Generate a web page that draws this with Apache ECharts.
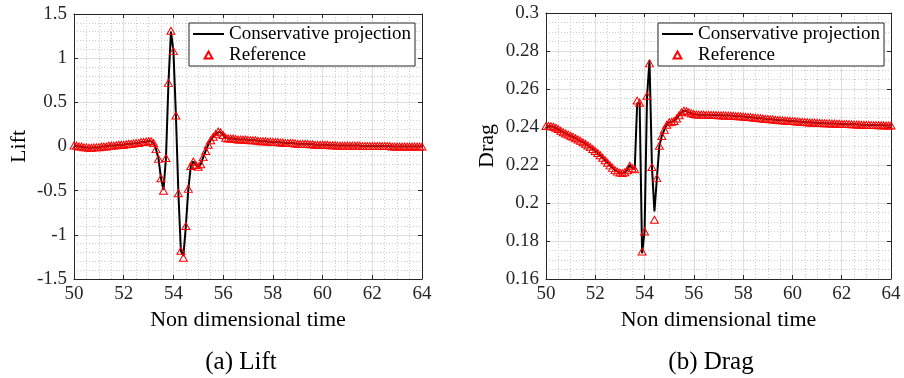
<!DOCTYPE html>
<html><head><meta charset="utf-8">
<script src="https://cdn.jsdelivr.net/npm/echarts@6/dist/echarts.min.js"></script>
<style>html,body{margin:0;padding:0;background:#fff}#c{width:904px;height:378px}</style>
</head><body><div id="c"></div>
<script>
const time = [
50.0,50.1,50.2,50.3,50.4,50.5,50.6,50.7,50.8,50.9,
51.0,51.1,51.2,51.3,51.4,51.5,51.6,51.7,51.8,51.9,
52.0,52.1,52.2,52.3,52.4,52.5,52.6,52.7,52.8,52.9,
53.0,53.1,53.2,53.3,53.4,53.5,53.6,53.7,53.8,53.9,
54.0,54.1,54.2,54.3,54.4,54.5,54.6,54.7,54.8,54.9,
55.0,55.1,55.2,55.3,55.4,55.5,55.6,55.7,55.8,55.9,
56.0,56.1,56.2,56.3,56.4,56.5,56.6,56.7,56.8,56.9,
57.0,57.1,57.2,57.3,57.4,57.5,57.6,57.7,57.8,57.9,
58.0,58.1,58.2,58.3,58.4,58.5,58.6,58.7,58.8,58.9,
59.0,59.1,59.2,59.3,59.4,59.5,59.6,59.7,59.8,59.9,
60.0,60.1,60.2,60.3,60.4,60.5,60.6,60.7,60.8,60.9,
61.0,61.1,61.2,61.3,61.4,61.5,61.6,61.7,61.8,61.9,
62.0,62.1,62.2,62.3,62.4,62.5,62.6,62.7,62.8,62.9,
63.0,63.1,63.2,63.3,63.4,63.5,63.6,63.7,63.8,63.9,
64.0];

const liftReference = [
0.01,0.01,0.00,0.00,-0.01,-0.01,-0.015,-0.015,-0.01,-0.01,
-0.01,0.00,0.00,0.00,0.01,0.01,0.01,0.015,0.02,0.02,
0.02,0.025,0.03,0.03,0.035,0.04,0.04,0.05,0.05,0.055,
0.06,0.06,0.04,-0.03,-0.14,-0.36,-0.50,-0.13,0.72,1.31,
1.08,0.35,-0.53,-1.18,-1.26,-0.90,-0.48,-0.22,-0.17,-0.21,
-0.23,-0.20,-0.12,-0.05,0.02,0.07,0.11,0.14,0.17,0.16,
0.13,0.10,0.09,0.09,0.09,0.085,0.08,0.08,0.08,0.08,
0.075,0.07,0.07,0.07,0.065,0.06,0.06,0.06,0.055,0.055,
0.05,0.05,0.05,0.045,0.045,0.04,0.04,0.04,0.04,0.035,
0.03,0.03,0.03,0.03,0.03,0.025,0.025,0.02,0.02,0.02,
0.02,0.02,0.02,0.015,0.015,0.015,0.01,0.01,0.01,0.01,
0.01,0.01,0.01,0.01,0.01,0.01,0.005,0.005,0.005,0.005,
0.005,0.005,0.005,0.005,0.005,0.005,0.005,0.005,0.00,0.00,
0.00,0.00,0.00,0.00,0.00,0.00,0.00,0.00,0.00,0.00,
0.00];

const liftProjection = [
0.01,0.01,0.00,0.00,-0.01,-0.01,-0.015,-0.015,-0.01,-0.01,
-0.01,0.00,0.00,0.00,0.01,0.01,0.01,0.015,0.02,0.02,
0.02,0.025,0.03,0.03,0.035,0.04,0.04,0.05,0.05,0.055,
0.06,0.06,0.04,-0.03,-0.14,-0.36,-0.49,-0.13,0.72,1.30,
1.08,0.35,-0.53,-1.18,-1.24,-0.90,-0.48,-0.22,-0.17,-0.21,
-0.23,-0.20,-0.12,-0.05,0.02,0.07,0.11,0.14,0.16,0.16,
0.13,0.10,0.09,0.09,0.09,0.085,0.08,0.08,0.08,0.08,
0.075,0.07,0.07,0.07,0.065,0.06,0.06,0.06,0.055,0.055,
0.05,0.05,0.05,0.045,0.045,0.04,0.04,0.04,0.04,0.035,
0.03,0.03,0.03,0.03,0.03,0.025,0.025,0.02,0.02,0.02,
0.02,0.02,0.02,0.015,0.015,0.015,0.01,0.01,0.01,0.01,
0.01,0.01,0.01,0.01,0.01,0.01,0.005,0.005,0.005,0.005,
0.005,0.005,0.005,0.005,0.005,0.005,0.005,0.005,0.00,0.00,
0.00,0.00,0.00,0.00,0.00,0.00,0.00,0.00,0.00,0.00,
0.00];

const dragReference = [
0.2405,0.2405,0.2404,0.2401,0.2396,0.2389,0.2380,0.2372,0.2366,0.2360,
0.2354,0.2348,0.2341,0.2334,0.2327,0.2320,0.2312,0.2303,0.2294,0.2284,
0.2274,0.2263,0.2251,0.2238,0.2225,0.2212,0.2198,0.2185,0.2173,0.2165,
0.2160,0.2158,0.2162,0.2172,0.2196,0.2183,0.2178,0.2539,0.2528,0.1745,
0.1850,0.2564,0.2735,0.2189,0.1912,0.2131,0.2301,0.2353,0.2385,0.2412,
0.2425,0.2428,0.2432,0.2445,0.2462,0.2478,0.2486,0.2483,0.2477,0.2472,
0.2468,0.2466,0.2465,0.2465,0.2465,0.2464,0.2464,0.2464,0.2463,0.2463,
0.2462,0.2462,0.2461,0.2461,0.2460,0.2460,0.2459,0.2458,0.2457,0.2456,
0.2455,0.2454,0.2453,0.2452,0.2450,0.2449,0.2448,0.2446,0.2445,0.2443,
0.2442,0.2441,0.2440,0.2438,0.2437,0.2436,0.2435,0.2434,0.2433,0.2432,
0.2431,0.2430,0.2429,0.2428,0.2427,0.2426,0.2425,0.2424,0.2424,0.2423,
0.2422,0.2421,0.2421,0.2420,0.2419,0.2419,0.2418,0.2418,0.2417,0.2417,
0.2416,0.2416,0.2415,0.2415,0.2414,0.2414,0.2413,0.2413,0.2412,0.2412,
0.2411,0.2411,0.2410,0.2410,0.2410,0.2409,0.2409,0.2409,0.2408,0.2408,
0.2408];

const dragProjection = [
0.2405,0.2405,0.2404,0.2401,0.2396,0.2389,0.2380,0.2372,0.2366,0.2360,
0.2354,0.2348,0.2341,0.2334,0.2327,0.2320,0.2312,0.2303,0.2294,0.2284,
0.2274,0.2263,0.2251,0.2238,0.2225,0.2212,0.2198,0.2185,0.2173,0.2165,
0.2160,0.2158,0.2162,0.2174,0.2201,0.2185,0.2178,0.2525,0.2525,0.1735,
0.1850,0.2560,0.2750,0.2190,0.1955,0.2131,0.2301,0.2353,0.2385,0.2412,
0.2425,0.2428,0.2432,0.2445,0.2462,0.2478,0.2486,0.2483,0.2477,0.2472,
0.2468,0.2466,0.2465,0.2465,0.2465,0.2464,0.2464,0.2464,0.2463,0.2463,
0.2462,0.2462,0.2461,0.2461,0.2460,0.2460,0.2459,0.2458,0.2457,0.2456,
0.2455,0.2454,0.2453,0.2452,0.2450,0.2449,0.2448,0.2446,0.2445,0.2443,
0.2442,0.2441,0.2440,0.2438,0.2437,0.2436,0.2435,0.2434,0.2433,0.2432,
0.2431,0.2430,0.2429,0.2428,0.2427,0.2426,0.2425,0.2424,0.2424,0.2423,
0.2422,0.2421,0.2421,0.2420,0.2419,0.2419,0.2418,0.2418,0.2417,0.2417,
0.2416,0.2416,0.2415,0.2415,0.2414,0.2414,0.2413,0.2413,0.2412,0.2412,
0.2411,0.2411,0.2410,0.2410,0.2410,0.2409,0.2409,0.2409,0.2408,0.2408,
0.2408];

const seriesNames = ['Conservative projection', 'Reference'];
const xAxisName = 'Non dimensional time';
const yAxisNames = ['Lift', 'Drag'];
const captions = ['(a) Lift', '(b) Drag'];

const FONT = 'Liberation Serif';
const AX = '#262626';
const GRID_MAJOR = '#dedede';
const GRID_MINOR = '#cccccc';

function pairs(ys) { return time.map((t, i) => [t, ys[i]]); }

function bottomX(gi) {
  return {
    type: 'value', gridIndex: gi, min: 50, max: 64, interval: 2, position: 'bottom',
    name: xAxisName, nameLocation: 'middle', nameGap: 28,
    nameTextStyle: { fontFamily: FONT, fontSize: 22, color: '#000' },
    axisLine: { onZero: false, lineStyle: { color: AX, width: 1 } },
    axisTick: { inside: true, length: 4, lineStyle: { color: AX } },
    axisLabel: { fontFamily: FONT, fontSize: 19, color: AX, margin: 6 },
    splitLine: { show: true, lineStyle: { color: GRID_MAJOR, width: 1 } },
    minorTick: { show: false, splitNumber: 4 },
    minorSplitLine: { show: true, lineStyle: { color: GRID_MINOR, width: 1, type: [1, 2] } }
  };
}
function topX(gi) {
  return {
    type: 'value', gridIndex: gi, min: 50, max: 64, interval: 2, position: 'top',
    axisLine: { onZero: false, lineStyle: { color: AX, width: 1 } },
    axisTick: { inside: true, length: 4, lineStyle: { color: AX } },
    axisLabel: { show: false }, splitLine: { show: false }
  };
}
function leftY(gi, min, max, interval, minorN, name, gap) {
  return {
    type: 'value', gridIndex: gi, min: min, max: max, interval: interval, position: 'left',
    name: name, nameLocation: 'middle', nameGap: gap,
    nameTextStyle: { fontFamily: FONT, fontSize: 22, color: '#000' },
    axisLine: { show: true, onZero: false, lineStyle: { color: AX, width: 1 } },
    axisTick: { show: true, inside: true, length: 4, lineStyle: { color: AX } },
    axisLabel: { fontFamily: FONT, fontSize: 19, color: AX, margin: 7 },
    splitLine: { show: true, lineStyle: { color: GRID_MAJOR, width: 1 } },
    minorTick: { show: false, splitNumber: minorN },
    minorSplitLine: { show: true, lineStyle: { color: GRID_MINOR, width: 1, type: [1, 2] } }
  };
}
function rightY(gi, min, max, interval) {
  return {
    type: 'value', gridIndex: gi, min: min, max: max, interval: interval, position: 'right',
    axisLine: { show: true, onZero: false, lineStyle: { color: AX, width: 1 } },
    axisTick: { show: true, inside: true, length: 4, lineStyle: { color: AX } },
    axisLabel: { show: false }, splitLine: { show: false }
  };
}

function lineSeries(xi, yi, ys) {
  return {
    name: seriesNames[0], type: 'line', xAxisIndex: xi, yAxisIndex: yi,
    data: pairs(ys), symbol: 'none', showSymbol: false, symbolKeepAspect: true,
    lineStyle: { color: '#000', width: 2 }, itemStyle: { color: '#000' },
    z: 2, animation: false
  };
}
function refSeries(xi, yi, ys) {
  return {
    name: seriesNames[1], type: 'scatter', xAxisIndex: xi, yAxisIndex: yi,
    data: pairs(ys), symbol: 'triangle', symbolSize: [8, 7], symbolKeepAspect: true,
    itemStyle: { color: 'rgba(0,0,0,0)', borderColor: '#ff0000', borderWidth: 1, opacity: 1 },
    z: 3, animation: false
  };
}
function legendAt(left) {
  return {
    left: left, top: 23, orient: 'vertical', selectedMode: false,
    data: [
      { name: seriesNames[0], icon: 'path://M0,0H31V2H0Z', itemStyle: { color: '#000', borderWidth: 0 } },
      { name: seriesNames[1], icon: 'path://M5,0L10,9L0,9Z' }
    ],
    itemWidth: 31, itemHeight: 7, itemGap: 1, padding: [1, 4, 1, 4],
    borderColor: AX, borderWidth: 1, backgroundColor: '#fff',
    textStyle: { fontFamily: FONT, fontSize: 19, color: '#000', lineHeight: 20 }
  };
}

const chart = echarts.init(document.getElementById('c'), null, { renderer: 'canvas', width: 904, height: 378 });
chart.setOption({
  animation: false,
  backgroundColor: '#fff',
  textStyle: { fontFamily: FONT },
  grid: [
    { left: 74, top: 14, width: 348, height: 265 },
    { left: 546, top: 13, width: 345, height: 266 }
  ],
  xAxis: [bottomX(0), topX(0), bottomX(1), topX(1)],
  yAxis: [
    leftY(0, -1.5, 1.5, 0.5, 5, yAxisNames[0], 44), rightY(0, -1.5, 1.5, 0.5),
    leftY(1, 0.16, 0.3, 0.02, 4, yAxisNames[1], 48), rightY(1, 0.16, 0.3, 0.02)
  ],
  legend: [legendAt(189), legendAt(658)],
  title: [
    { text: captions[0], left: 236, top: 345, textAlign: 'center',
      textStyle: { fontFamily: FONT, fontSize: 25, fontWeight: 'normal', color: '#000' } },
    { text: captions[1], left: 706, top: 345, textAlign: 'center',
      textStyle: { fontFamily: FONT, fontSize: 25, fontWeight: 'normal', color: '#000' } }
  ],
  series: [
    lineSeries(0, 0, liftProjection), refSeries(0, 0, liftReference),
    lineSeries(2, 2, dragProjection), refSeries(2, 2, dragReference)
  ]
});
</script></body></html>
